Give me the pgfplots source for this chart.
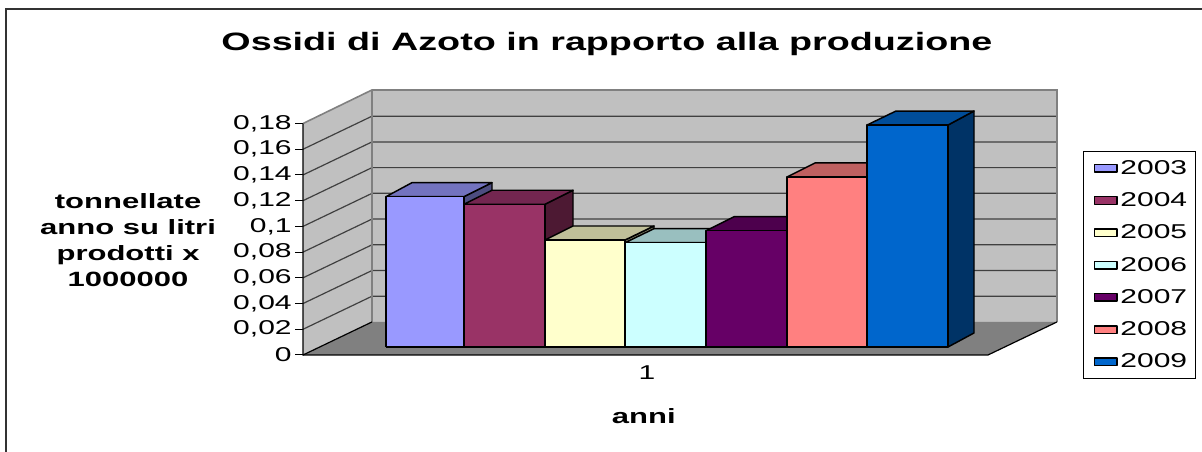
\documentclass[border=0pt]{standalone}
\usepackage{fontspec}
\setmainfont[FakeStretch=1.5]{Liberation Sans}
\usepackage{pgfplots}
\pgfplotsset{compat=1.18}
\definecolor{wall}{HTML}{C0C0C0}
\definecolor{floorc}{HTML}{808080}
\definecolor{gridc}{HTML}{404040}
\definecolor{frontA}{HTML}{9999FF}\definecolor{topA}{HTML}{7373BF}\definecolor{sideA}{HTML}{4D4D80}
\definecolor{frontB}{HTML}{993366}\definecolor{topB}{HTML}{732650}\definecolor{sideB}{HTML}{4D1933}
\definecolor{frontC}{HTML}{FFFFCC}\definecolor{topC}{HTML}{BFBF99}\definecolor{sideC}{HTML}{808066}
\definecolor{frontD}{HTML}{CCFFFF}\definecolor{topD}{HTML}{99BFBF}\definecolor{sideD}{HTML}{668080}
\definecolor{frontE}{HTML}{660066}\definecolor{topE}{HTML}{4D004D}\definecolor{sideE}{HTML}{330033}
\definecolor{frontF}{HTML}{FF8080}\definecolor{topF}{HTML}{BF6060}\definecolor{sideF}{HTML}{804040}
\definecolor{frontG}{HTML}{0066CC}\definecolor{topG}{HTML}{004D99}\definecolor{sideG}{HTML}{003366}
\pgfplotsset{
  common/.style={
    scale only axis, width=565.5pt, height=198.75pt,
    at={(227.25pt,72.75pt)}, anchor=south west,
    xmin=303, xmax=1057, clip=false},
  face/.style={draw=black, line width=1.1pt, line join=round, fill=#1, forget plot, mark=none},
  front/.style={draw=black, line width=1.1pt, line join=round, fill=#1, mark=none, area legend},
}
\newcommand{\lgnd}[1]{#1\hspace*{-3.5pt}}
\begin{document}
\begin{tikzpicture}
\useasboundingbox (0,0) rectangle (901.5pt,339pt);
\begin{axis}[common,
  ymin=0, ymax=0.20607,
  axis x line*=bottom, axis y line*=left,
  axis line style={draw=none},
  tick align=outside,
  major tick length=6pt,
  ytick={0,0.02,0.04,0.06,0.08,0.1,0.12,0.14,0.16,0.18},
  yticklabels={0,{0,02},{0,04},{0,06},{0,08},{0,1},{0,12},{0,14},{0,16},{0,18}},
  ytick style={black, line width=0.75pt},
  xtick={647}, xticklabels={1},
  xtick style={draw=none},
  tick label style={font=\fontsize{15}{17}\selectfont},
  yticklabel style={xshift=1pt},
  xticklabel style={yshift=1.5pt},
  title={Ossidi di Azoto in rapporto alla produzione},
  title style={font=\fontsize{18.85}{22}\bfseries\selectfont, at={(axis description cs:0.403,1.143)}, anchor=center},
  xlabel={anni},
  xlabel style={font=\fontsize{15.5}{18}\bfseries\selectfont, at={(axis description cs:0.452,-0.232)}, anchor=center},
  ylabel={tonnellate\\anno su litri\\prodotti x\\1000000},
  ylabel style={font=\fontsize{15.5}{19.5}\bfseries\selectfont, align=center, rotate=-90, at={(axis description cs:-0.232,0.434)}, anchor=center},
]
% frame
\addplot[draw=black!80, line width=1.5pt, mark=none, line cap=rect] coordinates {(6,-0.07543)(6,0.26905)(1202,0.26905)};
% walls and floor
\addplot[fill=wall, draw=none, mark=none] coordinates {(303,0)(372,0.0257)(372,0.2061)(303,0.18)(303,0)};
\addplot[fill=wall, draw=none, mark=none] coordinates {(372,0.0257)(1057,0.0257)(1057,0.2061)(372,0.2061)(372,0.0257)};
\addplot[fill=floorc, draw=none, mark=none] coordinates {(303,0)(988,0)(1057,0.0257)(372,0.0257)(303,0)};
% grid
\addplot[gridc, line width=0.9pt, mark=none] coordinates {(303,0.02)(372,0.0457)(1057,0.0457)};
\addplot[gridc, line width=0.9pt, mark=none] coordinates {(303,0.04)(372,0.0657)(1057,0.0657)};
\addplot[gridc, line width=0.9pt, mark=none] coordinates {(303,0.06)(372,0.0857)(1057,0.0857)};
\addplot[gridc, line width=0.9pt, mark=none] coordinates {(303,0.08)(372,0.1057)(1057,0.1057)};
\addplot[gridc, line width=0.9pt, mark=none] coordinates {(303,0.10)(372,0.1257)(1057,0.1257)};
\addplot[gridc, line width=0.9pt, mark=none] coordinates {(303,0.12)(372,0.1457)(1057,0.1457)};
\addplot[gridc, line width=0.9pt, mark=none] coordinates {(303,0.14)(372,0.1657)(1057,0.1657)};
\addplot[gridc, line width=0.9pt, mark=none] coordinates {(303,0.16)(372,0.1857)(1057,0.1857)};
% wall borders
\addplot[floorc, line width=1.2pt, mark=none] coordinates {(303,0.18)(372,0.2061)(1057,0.2061)(1057,0.0257)};
\addplot[floorc, line width=1.2pt, mark=none] coordinates {(372,0.2061)(372,0.0257)};
\addplot[black, line width=0.9pt, mark=none] coordinates {(303,0.18)(303,0)(988,0)(1057,0.0257)};
\addplot[black, line width=0.9pt, mark=none] coordinates {(303,0)(372,0.0257)};
\end{axis}
\begin{axis}[common,
  ymin=-0.00622, ymax=0.19985,
  hide axis,
  legend style={at={(axis description cs:1.0345,0.7698)}, anchor=north west,
    draw=black, line width=0.75pt, font=\fontsize{15}{17}\selectfont,
    inner xsep=7.5pt, inner ysep=4.5pt, row sep=8.25pt},
  legend image code/.code={\draw[#1, line width=0.9pt] (0pt,-3.4pt) rectangle (13.5pt,3.4pt);},
  legend cell align=left,
]
% 2003
\addplot[face=sideA] coordinates {(464,0.1169)(492,0.1278)(492,0.0109)(464,0)(464,0.1169)};
\addplot[face=topA] coordinates {(386,0.1169)(412,0.1278)(492,0.1278)(464,0.1169)(386,0.1169)};
\addplot[front=frontA] coordinates {(386,0)(464,0)(464,0.1169)(386,0.1169)(386,0)};
% 2004
\addplot[face=sideB] coordinates {(545,0.111)(573,0.1219)(573,0.0109)(545,0)(545,0.111)};
\addplot[face=topB] coordinates {(464,0.111)(492,0.1219)(573,0.1219)(545,0.111)(464,0.111)};
\addplot[front=frontB] coordinates {(464,0)(545,0)(545,0.111)(464,0.111)(464,0)};
% 2005
\addplot[face=sideC] coordinates {(625,0.0832)(654,0.0941)(654,0.0109)(625,0)(625,0.0832)};
\addplot[face=topC] coordinates {(545,0.0832)(573,0.0941)(654,0.0941)(625,0.0832)(545,0.0832)};
\addplot[front=frontC] coordinates {(545,0)(625,0)(625,0.0832)(545,0.0832)(545,0)};
% 2006
\addplot[face=sideD] coordinates {(706,0.0811)(734,0.092)(734,0.0109)(706,0)(706,0.0811)};
\addplot[face=topD] coordinates {(625,0.0811)(654,0.092)(734,0.092)(706,0.0811)(625,0.0811)};
\addplot[front=frontD] coordinates {(625,0)(706,0)(706,0.0811)(625,0.0811)(625,0)};
% 2007
\addplot[face=sideE] coordinates {(787,0.0904)(815,0.1013)(815,0.0109)(787,0)(787,0.0904)};
\addplot[face=topE] coordinates {(706,0.0904)(734,0.1013)(815,0.1013)(787,0.0904)(706,0.0904)};
\addplot[front=frontE] coordinates {(706,0)(787,0)(787,0.0904)(706,0.0904)(706,0)};
% 2008
\addplot[face=sideF] coordinates {(867,0.1322)(896,0.1431)(896,0.0109)(867,0)(867,0.1322)};
\addplot[face=topF] coordinates {(787,0.1322)(815,0.1431)(896,0.1431)(867,0.1322)(787,0.1322)};
\addplot[front=frontF] coordinates {(787,0)(867,0)(867,0.1322)(787,0.1322)(787,0)};
% 2009
\addplot[face=sideG] coordinates {(948,0.1726)(974,0.1835)(974,0.0109)(948,0)(948,0.1726)};
\addplot[face=topG] coordinates {(867,0.1726)(896,0.1835)(974,0.1835)(948,0.1726)(867,0.1726)};
\addplot[front=frontG] coordinates {(867,0)(948,0)(948,0.1726)(867,0.1726)(867,0)};
\legend{\lgnd{2003},\lgnd{2004},\lgnd{2005},\lgnd{2006},\lgnd{2007},\lgnd{2008},\lgnd{2009}}
\end{axis}
\end{tikzpicture}
\end{document}
